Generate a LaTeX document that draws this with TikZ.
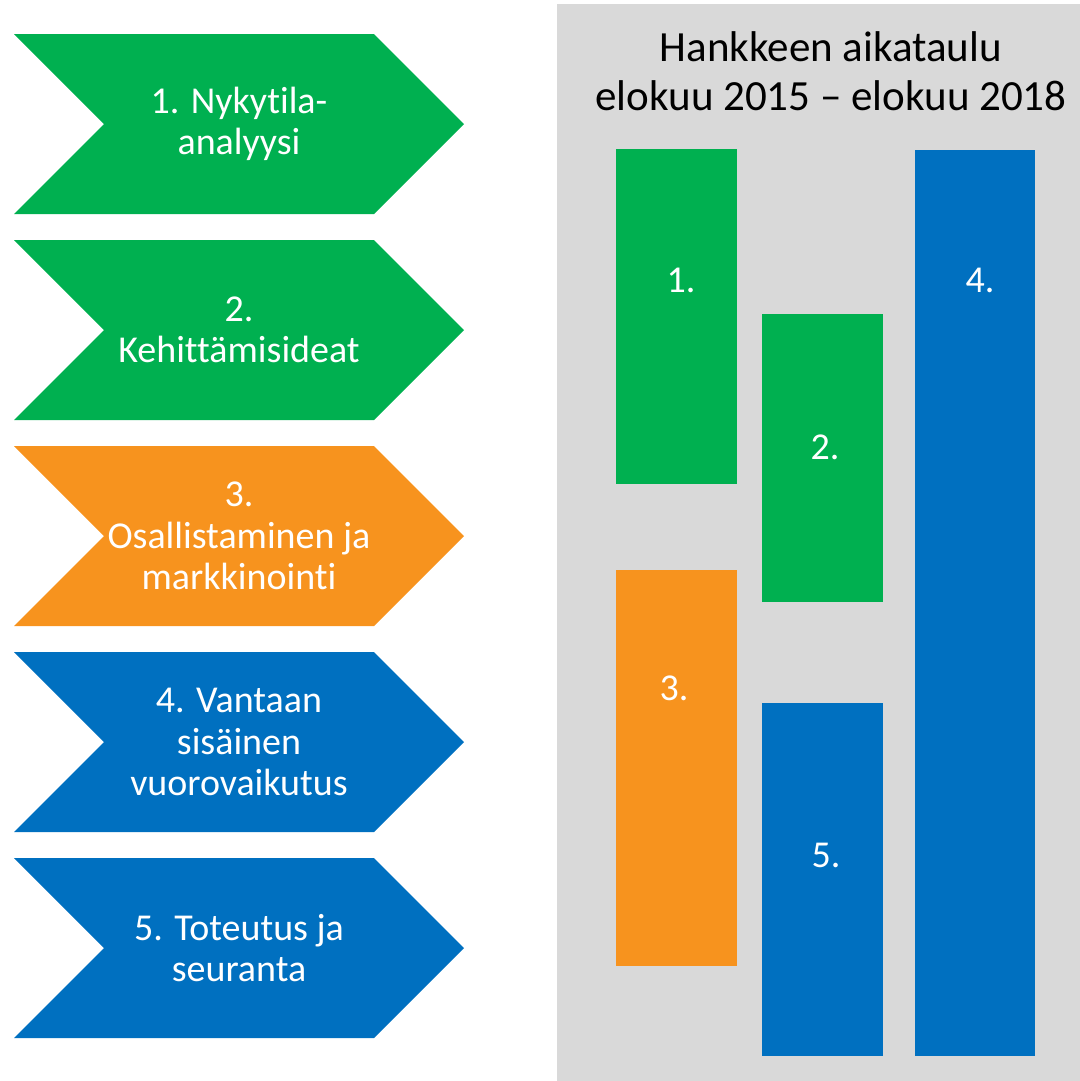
\documentclass[tikz,border=0pt]{standalone}
\usepackage{fontspec}
\setmainfont[Ligatures=NoCommon]{Carlito}
\usepackage{tikz}
\usetikzlibrary{positioning}
\definecolor{phasegreen}{HTML}{00B050}
\definecolor{phaseorange}{HTML}{F7931E}
\definecolor{phaseblue}{HTML}{0070C0}
\definecolor{panelgrey}{HTML}{D9D9D9}
\tikzset{phase text/.style={text=white,align=center,inner sep=0pt,font=\fontsize{27}{29.5}\selectfont},
  bar label/.style={text=white,inner sep=0pt,font=\fontsize{27}{29.5}\selectfont},
  title text/.style={text=black,inner sep=0pt,anchor=base,font=\fontsize{30.6}{35}\selectfont},}

\begin{document}
\begin{tikzpicture}[x=0.025cm,y=-0.025cm]
    \useasboundingbox (0,0) rectangle (1080,1081);

    % phases on the left
    \foreach \i/\t/\col/\txt in {1/34/phasegreen/{1. Nykytila-\\analyysi},
        2/240/phasegreen/{2.\\Kehittämisideat},
        3/446/phaseorange/{3.\\Osallistaminen ja\\markkinointi},
        4/652/phaseblue/{4. Vantaan\\sisäinen\\vuorovaikutus},
        5/858/phaseblue/{5. Toteutus ja\\seuranta}}{
      \fill[\col] (14,\t) -- (374,\t) -- (464,\t+90) -- (374,\t+180)
        -- (14,\t+180) -- (104,\t+90) -- cycle;
      \node[phase text] (phase\i) at (239,\t+90) {\txt};
    }

    % schedule panel
    \fill[panelgrey] (557,4) rectangle (1080,1081);
    \node[title text] (title) at (831,61) {Hankkeen aikataulu};
    \node[title text] (period) at (831,110) {elokuu 2015 -- elokuu 2018};

    \fill[phasegreen] (616,149) rectangle (737,484);
    \fill[phasegreen] (762,314) rectangle (883,602);
    \fill[phaseorange] (616,570) rectangle (737,966);
    \fill[phaseblue] (915,150) rectangle (1035,1056);
    \fill[phaseblue] (762,703) rectangle (883,1056);

    \node[bar label] (bar1) at (681,280) {1.};
    \node[bar label] (bar2) at (825,447) {2.};
    \node[bar label] (bar3) at (674,688) {3.};
    \node[bar label] (bar4) at (980,280) {4.};
    \node[bar label] (bar5) at (826,855) {5.};
\end{tikzpicture}
\end{document}
